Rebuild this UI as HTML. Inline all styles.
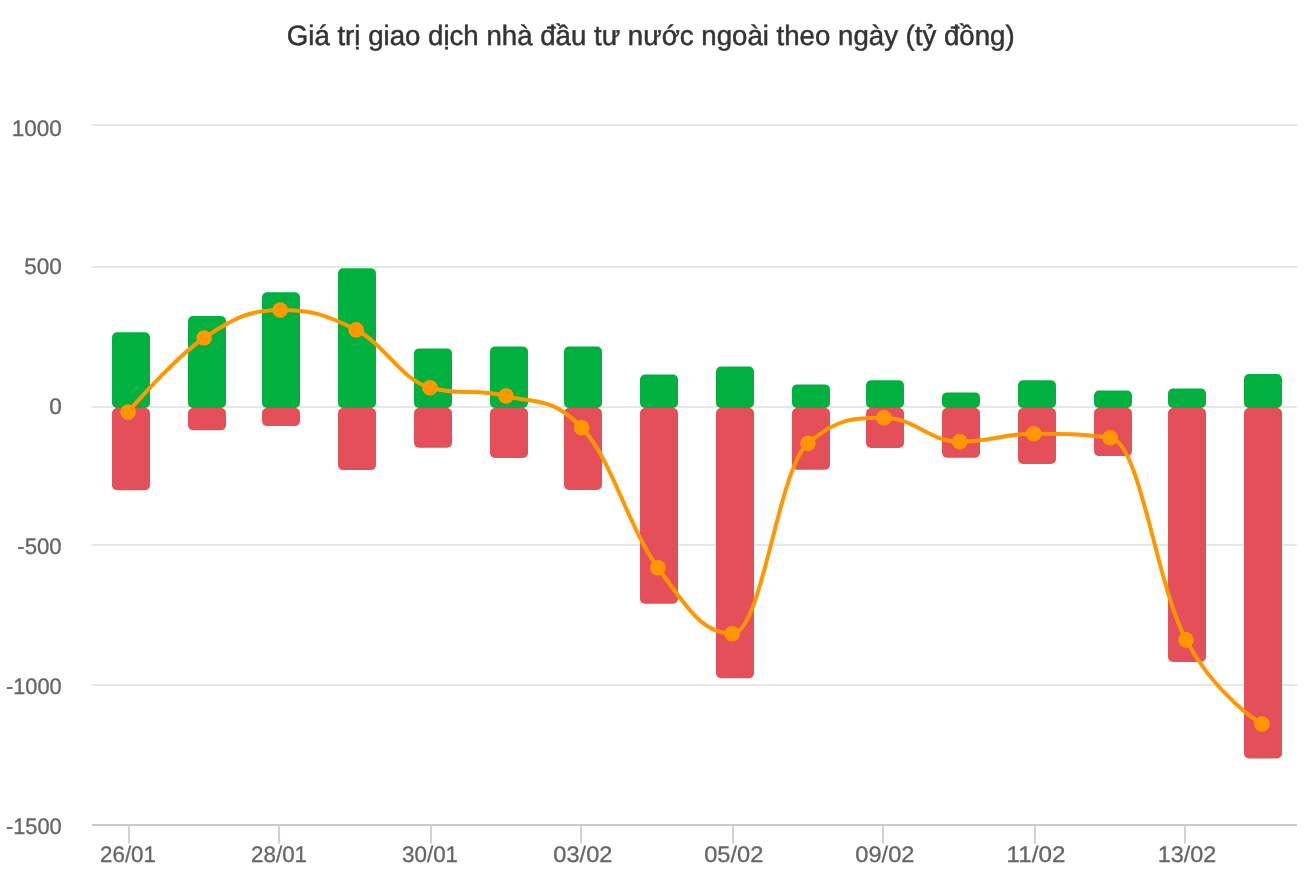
<!DOCTYPE html><html><head><meta charset="utf-8"><title>Chart</title><style>html,body{margin:0;padding:0;background:#fff;overflow:hidden;}svg{display:block;}text{font-family:"Liberation Sans",sans-serif;text-rendering:geometricPrecision;}svg{will-change:transform;}</style></head><body>
<svg width="1316" height="890" viewBox="0 0 1316 890">
<rect x="0" y="0" width="1316" height="890" fill="#ffffff"/>
<text transform="translate(650.70 45.30) scale(0.9695 0.98)" text-anchor="middle" font-size="28.5" fill="#333333" stroke="#333333" stroke-width="0.5">Giá trị giao dịch nhà đầu tư nước ngoài theo ngày (tỷ đồng)</text>
<rect x="92" y="124" width="1205" height="2" fill="#e6e6e6"/>
<rect x="92" y="266" width="1205" height="2" fill="#e6e6e6"/>
<rect x="92" y="406" width="1205" height="2" fill="#e6e6e6"/>
<rect x="92" y="544" width="1205" height="2" fill="#e6e6e6"/>
<rect x="92" y="684" width="1205" height="2" fill="#e6e6e6"/>
<rect x="92" y="824" width="1205" height="2" fill="#cacaca"/>
<rect x="128" y="826" width="2" height="17.6" fill="#ccd2ea"/>
<rect x="278" y="826" width="2" height="17.6" fill="#ccd2ea"/>
<rect x="430" y="826" width="2" height="17.6" fill="#ccd2ea"/>
<rect x="580" y="826" width="2" height="17.6" fill="#ccd2ea"/>
<rect x="732" y="826" width="2" height="17.6" fill="#ccd2ea"/>
<rect x="882" y="826" width="2" height="17.6" fill="#ccd2ea"/>
<rect x="1034" y="826" width="2" height="17.6" fill="#ccd2ea"/>
<rect x="1184" y="826" width="2" height="17.6" fill="#ccd2ea"/>
<text transform="translate(61.70 136.10) scale(1.0 1.0)" text-anchor="end" font-size="22.5" fill="#666666" stroke="#666666" stroke-width="0.3">1000</text>
<text transform="translate(61.70 273.70) scale(1.0 1.0)" text-anchor="end" font-size="22.5" fill="#666666" stroke="#666666" stroke-width="0.3">500</text>
<text transform="translate(61.70 413.70) scale(1.0 1.0)" text-anchor="end" font-size="22.5" fill="#666666" stroke="#666666" stroke-width="0.3">0</text>
<text transform="translate(61.70 553.70) scale(0.984 1.0)" text-anchor="end" font-size="22.5" fill="#666666" stroke="#666666" stroke-width="0.3">-500</text>
<text transform="translate(61.70 693.70) scale(0.97 1.0)" text-anchor="end" font-size="22.5" fill="#666666" stroke="#666666" stroke-width="0.3">-1000</text>
<text transform="translate(61.70 833.70) scale(0.97 1.0)" text-anchor="end" font-size="22.5" fill="#666666" stroke="#666666" stroke-width="0.3">-1500</text>
<text transform="translate(128.00 861.90) scale(0.9926 1.0)" text-anchor="middle" font-size="22.5" fill="#666666" stroke="#666666" stroke-width="0.3">26/01</text>
<text transform="translate(279.05 861.90) scale(0.9944 1.0)" text-anchor="middle" font-size="22.5" fill="#666666" stroke="#666666" stroke-width="0.3">28/01</text>
<text transform="translate(430.05 861.90) scale(0.9944 1.0)" text-anchor="middle" font-size="22.5" fill="#666666" stroke="#666666" stroke-width="0.3">30/01</text>
<text transform="translate(582.85 861.90) scale(1.05 1.0)" text-anchor="middle" font-size="22.5" fill="#666666" stroke="#666666" stroke-width="0.3">03/02</text>
<text transform="translate(733.75 861.90) scale(1.05 1.0)" text-anchor="middle" font-size="22.5" fill="#666666" stroke="#666666" stroke-width="0.3">05/02</text>
<text transform="translate(884.85 861.90) scale(1.05 1.0)" text-anchor="middle" font-size="22.5" fill="#666666" stroke="#666666" stroke-width="0.3">09/02</text>
<text transform="translate(1036.05 861.90) scale(1.0788 1.0)" text-anchor="middle" font-size="22.5" fill="#666666" stroke="#666666" stroke-width="0.3">11/02</text>
<text transform="translate(1187.10 861.90) scale(1.0407 1.0)" text-anchor="middle" font-size="22.5" fill="#666666" stroke="#666666" stroke-width="0.3">13/02</text>
<rect x="112" y="332.2" width="38" height="75.8" rx="5" fill="#00b140"/>
<rect x="112" y="408" width="38" height="82.2" rx="5" fill="#e44f59"/>
<rect x="188" y="316.0" width="38" height="92.0" rx="5" fill="#00b140"/>
<rect x="188" y="408" width="38" height="22.2" rx="5" fill="#e44f59"/>
<rect x="262" y="292.3" width="38" height="115.7" rx="5" fill="#00b140"/>
<rect x="262" y="408" width="38" height="18.1" rx="5" fill="#e44f59"/>
<rect x="338" y="268.2" width="38" height="139.8" rx="5" fill="#00b140"/>
<rect x="338" y="408" width="38" height="62.1" rx="5" fill="#e44f59"/>
<rect x="414" y="348.4" width="38" height="59.6" rx="5" fill="#00b140"/>
<rect x="414" y="408" width="38" height="39.8" rx="5" fill="#e44f59"/>
<rect x="490" y="346.6" width="38" height="61.4" rx="5" fill="#00b140"/>
<rect x="490" y="408" width="38" height="49.9" rx="5" fill="#e44f59"/>
<rect x="564" y="346.6" width="38" height="61.4" rx="5" fill="#00b140"/>
<rect x="564" y="408" width="38" height="81.9" rx="5" fill="#e44f59"/>
<rect x="640" y="374.6" width="38" height="33.4" rx="5" fill="#00b140"/>
<rect x="640" y="408" width="38" height="195.8" rx="5" fill="#e44f59"/>
<rect x="716" y="366.6" width="38" height="41.4" rx="5" fill="#00b140"/>
<rect x="716" y="408" width="38" height="270.2" rx="5" fill="#e44f59"/>
<rect x="792" y="384.4" width="38" height="23.6" rx="5" fill="#00b140"/>
<rect x="792" y="408" width="38" height="61.8" rx="5" fill="#e44f59"/>
<rect x="866" y="380.3" width="38" height="27.7" rx="5" fill="#00b140"/>
<rect x="866" y="408" width="38" height="39.9" rx="5" fill="#e44f59"/>
<rect x="942" y="392.4" width="38" height="15.6" rx="5" fill="#00b140"/>
<rect x="942" y="408" width="38" height="49.7" rx="5" fill="#e44f59"/>
<rect x="1018" y="380.3" width="38" height="27.7" rx="5" fill="#00b140"/>
<rect x="1018" y="408" width="38" height="55.9" rx="5" fill="#e44f59"/>
<rect x="1094" y="390.5" width="38" height="17.5" rx="5" fill="#00b140"/>
<rect x="1094" y="408" width="38" height="48.1" rx="5" fill="#e44f59"/>
<rect x="1168" y="388.5" width="38" height="19.5" rx="5" fill="#00b140"/>
<rect x="1168" y="408" width="38" height="254.0" rx="5" fill="#e44f59"/>
<rect x="1244" y="374.1" width="38" height="33.9" rx="5" fill="#00b140"/>
<rect x="1244" y="408" width="38" height="350.4" rx="5" fill="#e44f59"/>
<path d="M 128.10 412.10 C 128.10 412.10 173.70 358.39 204.10 338.00 C 234.54 317.59 249.76 310.10 280.20 310.10 C 310.60 310.10 325.80 314.15 356.20 329.90 C 385.72 345.19 400.48 379.40 430.00 387.70 C 460.40 396.00 475.60 387.98 506.00 396.00 C 536.28 403.98 551.42 396.00 581.70 427.70 C 612.18 459.40 627.42 525.98 657.90 567.70 C 687.62 608.38 702.48 633.70 732.20 633.70 C 762.52 633.70 777.68 468.70 808.00 443.20 C 838.40 417.70 853.60 417.70 884.00 417.70 C 914.32 417.70 929.48 441.80 959.80 441.80 C 989.40 441.80 1004.20 433.70 1033.80 433.70 C 1064.36 433.70 1079.64 433.70 1110.20 437.70 C 1140.52 441.70 1155.68 582.72 1186.00 639.90 C 1216.40 697.24 1262.00 724.00 1262.00 724.00" fill="none" stroke="#ff9800" stroke-width="4" stroke-linecap="round" stroke-linejoin="round"/>
<circle cx="128.10" cy="412.1" r="7.8" fill="#ff9800"/>
<circle cx="204.10" cy="338.0" r="7.8" fill="#ff9800"/>
<circle cx="280.20" cy="310.1" r="7.8" fill="#ff9800"/>
<circle cx="356.20" cy="329.9" r="7.8" fill="#ff9800"/>
<circle cx="430.00" cy="387.7" r="7.8" fill="#ff9800"/>
<circle cx="506.00" cy="396.0" r="7.8" fill="#ff9800"/>
<circle cx="581.70" cy="427.7" r="7.8" fill="#ff9800"/>
<circle cx="657.90" cy="567.7" r="7.8" fill="#ff9800"/>
<circle cx="732.20" cy="633.7" r="7.8" fill="#ff9800"/>
<circle cx="808.00" cy="443.2" r="7.8" fill="#ff9800"/>
<circle cx="884.00" cy="417.7" r="7.8" fill="#ff9800"/>
<circle cx="959.80" cy="441.8" r="7.8" fill="#ff9800"/>
<circle cx="1033.80" cy="433.7" r="7.8" fill="#ff9800"/>
<circle cx="1110.20" cy="437.7" r="7.8" fill="#ff9800"/>
<circle cx="1186.00" cy="639.9" r="7.8" fill="#ff9800"/>
<circle cx="1262.00" cy="724.0" r="7.8" fill="#ff9800"/>
</svg></body></html>
